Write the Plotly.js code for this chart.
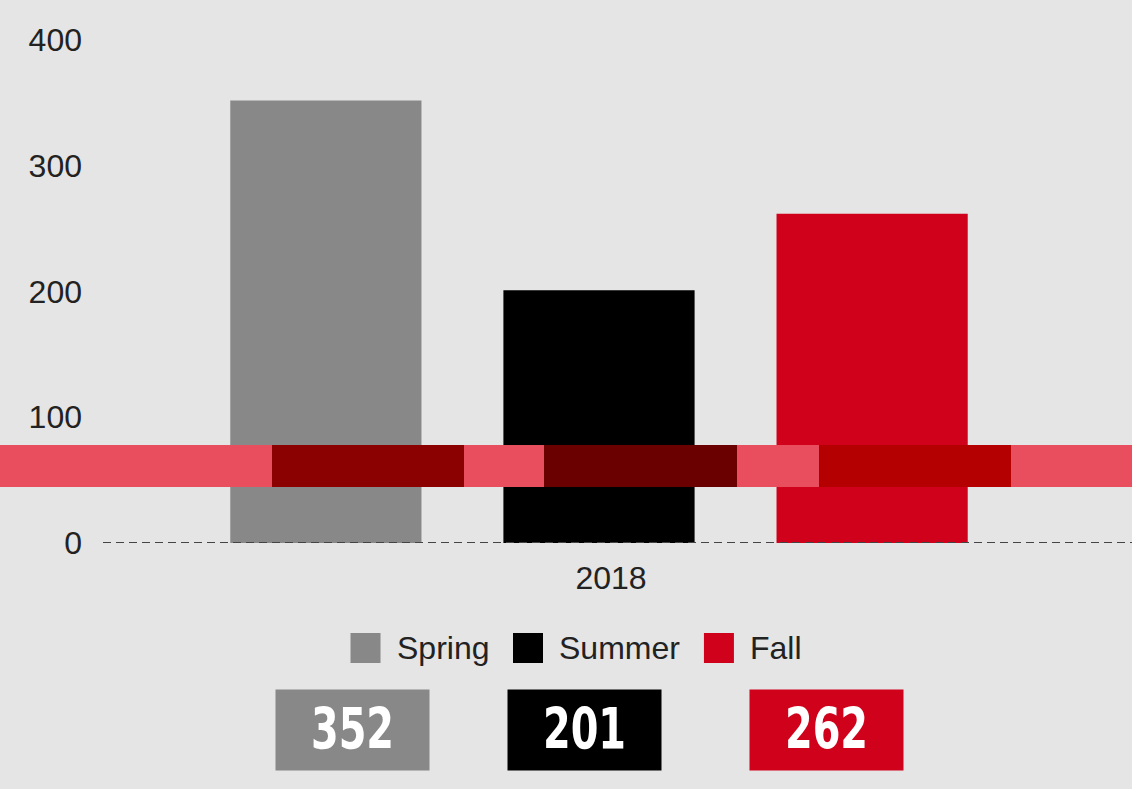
<!DOCTYPE html>
<html>
<head>
<meta charset="utf-8">
<script src="https://cdn.plot.ly/plotly-3.0.1.min.js"></script>
<style>
  html, body { margin: 0; padding: 0; background: #e5e5e5; }
  #chart { width: 1132px; height: 789px; }
</style>
</head>
<body>
<div id="chart"></div>
<script>
// ---- data ----
const seasons = ['Spring', 'Summer', 'Fall'];
const counts = [352, 201, 262];
const years = ['2018'];
const seasonColors = ['#888888', '#000000', '#d0021b'];
const yTickVals = [0, 100, 200, 300, 400];

// ---- layout constants (pixels) ----
const W = 1132, H = 789;
const M = { l: 103, r: 37, t: 15, b: 246 };
const PW = W - M.l - M.r, PH = H - M.t - M.b;
const px = x => (x - M.l) / PW;
const py = y => (H - M.b - y) / PH;

const FONT = '"Liberation Sans", Arial, sans-serif';
const BG = '#e5e5e5';

const traces = seasons.map((s, i) => ({
  type: 'bar',
  x: years,
  y: [counts[i]],
  name: s,
  marker: { color: seasonColors[i], line: { width: 0 } },
  showlegend: false,
  hovertemplate: s + ': %{y}<extra></extra>'
}));

const shapes = [];
const annotations = [];

// dashed baseline
shapes.push({
  type: 'line', xref: 'paper', yref: 'y', x0: 0, x1: px(W), y0: 0, y1: 0,
  line: { color: '#444444', width: 2, dash: '8px,5px' }, layer: 'above'
});

// decorative band across the chart
const bandTop = 445, bandBot = 487;
shapes.push({
  type: 'rect', xref: 'paper', yref: 'paper', x0: px(0), x1: px(W),
  y0: py(bandBot), y1: py(bandTop), fillcolor: '#e94e5e', line: { width: 0 }, layer: 'above'
});
const bandSegs = [[272, 464, '#8b0000'], [544, 737, '#6b0000'], [819, 1011, '#b40000']];
bandSegs.forEach(([a, b, c]) => shapes.push({
  type: 'rect', xref: 'paper', yref: 'paper', x0: px(a), x1: px(b),
  y0: py(bandBot), y1: py(bandTop), fillcolor: c, line: { width: 0 }, layer: 'above'
}));

// manual legend with large swatches
const legFont = 32, sw = 30, swGap = 14, itemGap = 26, legCenter = 575, legY = 648;
const cv = document.createElement('canvas').getContext('2d');
cv.font = legFont + 'px "Liberation Sans", Arial';
const widths = seasons.map(s => cv.measureText(s).width);
const total = widths.reduce((a, w) => a + sw + swGap + w, 0) + itemGap * (seasons.length - 1);
let cx = legCenter - total / 2;
seasons.forEach((s, i) => {
  shapes.push({
    type: 'rect', xref: 'paper', yref: 'paper',
    x0: px(cx), x1: px(cx + sw), y0: py(legY + sw / 2), y1: py(legY - sw / 2),
    fillcolor: seasonColors[i], line: { width: 0 }
  });
  annotations.push({
    xref: 'paper', yref: 'paper', x: px(cx + sw + swGap), y: py(legY),
    xanchor: 'left', yanchor: 'middle', text: s, showarrow: false,
    font: { family: FONT, size: legFont, color: '#222222' }
  });
  cx += sw + swGap + widths[i] + itemGap;
});

// value boxes
const boxCenters = [352.5, 584, 826.5];
const boxY = 730, boxW = 153, boxH = 80;
counts.forEach((v, i) => annotations.push({
  xref: 'paper', yref: 'paper', x: px(boxCenters[i]), y: py(boxY),
  xanchor: 'center', yanchor: 'middle', showarrow: false,
  text: String(v), width: boxW, height: boxH, borderpad: 0,
  bgcolor: seasonColors[i], align: 'center', valign: 'middle',
  font: { family: '"DejaVu Sans Condensed", "Liberation Sans", Arial, sans-serif', size: 54, color: '#ffffff', weight: 'bold' }
}));

const layout = {
  width: W, height: H,
  margin: M,
  paper_bgcolor: BG, plot_bgcolor: BG,
  barmode: 'group', bargap: 0.174, bargroupgap: 0.30,
  showlegend: false,
  font: { family: FONT, size: 32, color: '#222222' },
  xaxis: {
    type: 'category', showgrid: false, zeroline: false, showline: false,
    ticks: '', tickfont: { size: 32, color: '#222222' },
    ticklabelshift: 12, ticklabelstandoff: 13
  },
  yaxis: {
    range: [0, 420], tickvals: yTickVals, showgrid: false, zeroline: false,
    showline: false, ticks: '', tickfont: { size: 32, color: '#222222' },
    ticklabelstandoff: 20
  },
  shapes: shapes,
  annotations: annotations
};

Plotly.newPlot('chart', traces, layout, { displayModeBar: false, staticPlot: true }).then(gd => {
  // narrow the value-box numerals to match the condensed face of the original
  const vals = counts.map(String);
  gd.querySelectorAll('.annotation-text').forEach(t => {
    if (vals.includes(t.textContent.trim())) {
      t.style.transformBox = 'fill-box';
      t.style.transformOrigin = 'center';
      t.style.transform = 'scale(0.82, 1.05)';
    }
  });
});
</script>
</body>
</html>
